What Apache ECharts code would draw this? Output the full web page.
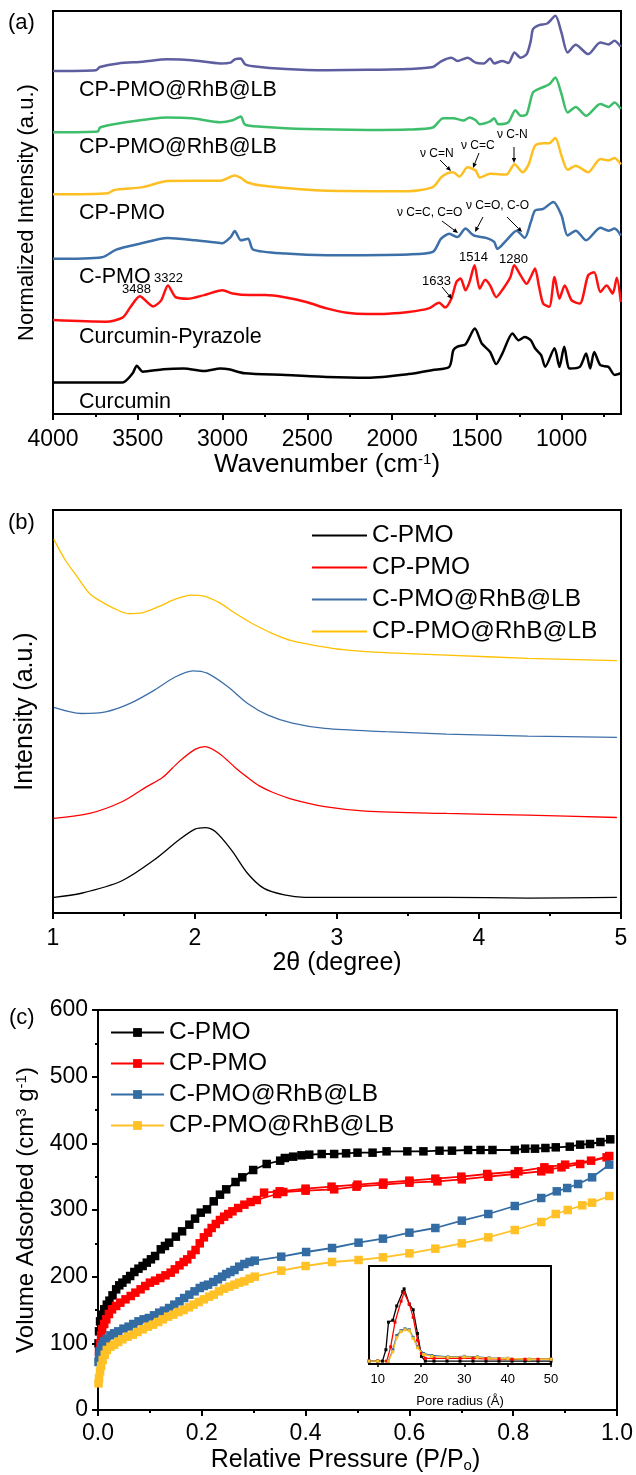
<!DOCTYPE html>
<html><head><meta charset="utf-8">
<script src="https://cdn.jsdelivr.net/npm/echarts@6/dist/echarts.min.js"></script>
<style>html,body{margin:0;padding:0;background:#fff}#c{width:636px;height:1475px}</style>
</head><body><div id="c"></div>
<script>
// ---------- Panel (a): FTIR, [wavenumber cm-1, normalized intensity (offset)] ----------
const ftirRhB1 = [[4000,85.1],[3747,85.3],[3723,86.1],[3615,87.0],[3470,87.4],[3325,88.0],[3181,87.8],[3012,87.0],[2952,87.2],[2928,88.0],[2892,88.2],[2868,86.8],[2820,86.3],[2627,85.6],[2386,85.3],[2145,85.4],[1904,85.6],[1760,86.1],[1711,87.5],[1651,88.4],[1615,87.6],[1555,88.4],[1507,87.2],[1459,87.0],[1422,88.2],[1398,87.0],[1350,87.6],[1314,87.1],[1278,89.7],[1242,88.4],[1206,89.3],[1182,92.6],[1169,95.5],[1133,96.5],[1085,96.9],[1037,98.8],[1001,94.6],[965,89.7],[917,91.6],[844,89.3],[772,92.2],[724,91.7],[688,92.6],[651,91.1]];
const ftirRhB2 = [[4000,69.9],[3735,70.1],[3723,71.1],[3615,72.1],[3325,73.6],[3181,73.4],[3012,72.4],[2940,72.9],[2892,73.8],[2868,71.8],[2771,71.3],[2506,70.7],[2145,70.5],[1904,70.6],[1760,71.1],[1699,73.4],[1639,73.4],[1579,72.8],[1543,73.6],[1507,72.9],[1483,71.9],[1422,72.6],[1398,73.4],[1374,71.9],[1314,72.4],[1273,75.4],[1242,74.0],[1206,74.4],[1169,79.8],[1121,80.9],[1073,81.8],[1037,83.5],[1001,79.4],[965,74.8],[917,76.2],[856,74.0],[772,76.9],[724,76.2],[688,77.3],[651,75.7]];
const ftirCPPMO = [[4000,54.5],[3675,54.8],[3639,55.6],[3470,56.3],[3325,57.8],[3012,57.9],[2928,59.2],[2892,58.6],[2856,57.5],[2771,56.7],[2386,55.4],[1904,55.3],[1760,56.3],[1711,58.7],[1675,59.7],[1639,60.0],[1603,58.9],[1555,61.2],[1507,60.4],[1483,58.7],[1422,59.6],[1326,59.4],[1278,62.0],[1230,60.0],[1194,62.0],[1157,66.6],[1109,67.2],[1073,67.2],[1037,68.5],[1001,64.1],[965,60.6],[917,61.6],[844,60.0],[772,63.3],[724,62.9],[688,63.5],[651,61.9]];
const ftirCPMO = [[4000,38.5],[3711,38.9],[3627,40.8],[3494,42.2],[3325,43.7],[3157,43.1],[3000,42.4],[2952,43.9],[2928,45.4],[2892,43.1],[2849,43.5],[2820,40.8],[2627,39.8],[2386,39.4],[1904,39.6],[1760,40.2],[1711,43.5],[1663,44.7],[1615,43.9],[1567,46.0],[1519,44.3],[1446,43.7],[1398,42.7],[1379,41.0],[1326,43.1],[1266,45.5],[1218,43.7],[1182,47.6],[1157,50.5],[1109,50.9],[1049,52.6],[1001,49.3],[965,44.3],[917,45.5],[856,43.1],[772,46.2],[724,45.5],[688,46.0],[651,44.3]];
const ftirCurPyr = [[4000,23.3],[3687,22.9],[3590,23.9],[3542,26.6],[3488,29.2],[3410,26.7],[3362,28.2],[3322,31.9],[3277,29.0],[3205,28.6],[3109,29.5],[3000,30.7],[2940,29.9],[2844,29.5],[2747,29.5],[2627,28.9],[2506,27.8],[2386,26.2],[2266,25.1],[2145,24.8],[2025,24.9],[1904,25.3],[1784,26.2],[1723,27.6],[1687,26.4],[1651,28.6],[1620,32.8],[1596,33.6],[1567,30.7],[1543,32.8],[1514,36.9],[1483,31.1],[1451,33.3],[1422,31.9],[1386,29.0],[1345,31.1],[1302,34.0],[1280,36.9],[1242,34.4],[1206,32.3],[1182,34.0],[1157,36.1],[1133,31.5],[1109,27.4],[1073,26.6],[1042,34.0],[1013,28.6],[982,31.9],[941,28.2],[893,27.4],[844,34.4],[808,35.2],[772,30.3],[735,31.9],[699,29.9],[675,33.8],[651,27.8]];
const ftirCur = [[4000,7.8],[3590,7.8],[3530,10.1],[3506,12.0],[3470,10.5],[3350,11.1],[3229,11.3],[3109,10.7],[3012,11.3],[2964,11.1],[2868,10.1],[2627,9.7],[2386,9.2],[2145,9.0],[1904,9.9],[1760,10.9],[1663,11.7],[1639,15.8],[1615,16.7],[1567,17.3],[1512,21.2],[1471,17.5],[1422,15.4],[1386,12.4],[1350,15.0],[1290,20.0],[1254,18.3],[1218,19.1],[1182,18.3],[1157,16.3],[1121,14.6],[1097,11.7],[1042,16.3],[1013,11.7],[985,16.7],[953,11.3],[893,11.7],[856,15.0],[832,11.3],[808,15.4],[772,12.1],[724,11.7],[688,9.7],[651,10.1]];
const ftirMajorTicks = [4000,3500,3000,2500,2000,1500,1000];
const ftirMinorTicks = [3750,3250,2750,2250,1750,1250,750];

// ---------- Panel (b): XRD, [2theta, intensity (offset)] ----------
const xrdNames = ['C-PMO','CP-PMO','C-PMO@RhB@LB','CP-PMO@RhB@LB'];
const xrdCPMO = [[1.006,3.9],[1.2,4.9],[1.486,8.0],[1.714,13.2],[1.886,18.1],[2.0,20.8],[2.071,21.2],[2.143,20.2],[2.257,15.6],[2.371,9.8],[2.486,6.1],[2.629,4.5],[2.771,3.9],[3.2,3.9],[3.771,3.9],[4.343,3.7],[4.971,3.9]];
const xrdCPPMO = [[1.006,23.5],[1.257,24.7],[1.486,27.6],[1.657,31.3],[1.771,33.6],[1.886,37.5],[2.0,40.6],[2.071,41.3],[2.171,39.6],[2.286,36.0],[2.371,33.6],[2.45,31.6],[2.55,29.9],[2.686,28.2],[2.914,26.4],[3.2,25.3],[3.771,24.7],[4.343,24.3],[4.971,23.7]];
const xrdCPMORhB = [[1.006,51.0],[1.2,49.5],[1.371,49.9],[1.543,52.0],[1.714,55.3],[1.857,58.5],[1.986,60.1],[2.086,59.5],[2.229,56.2],[2.371,52.0],[2.514,49.1],[2.686,47.1],[2.914,45.8],[3.343,45.0],[3.771,44.4],[4.343,43.9],[4.971,43.6]];
const xrdCPPMORhB = [[1.006,92.7],[1.086,87.6],[1.171,83.4],[1.257,79.3],[1.343,77.2],[1.429,75.6],[1.529,74.3],[1.629,74.5],[1.743,76.0],[1.857,77.8],[1.971,78.9],[2.057,78.7],[2.171,77.0],[2.286,74.3],[2.4,71.9],[2.543,69.4],[2.686,67.5],[2.857,66.3],[3.057,65.3],[3.343,64.6],[3.771,64.0],[4.343,63.2],[4.971,62.6]];

// ---------- Panel (c): N2 isotherms, [P/P0, volume adsorbed cm3/g] ----------
const isoCPMO = [[0.001,100],[0.002,118],[0.004,133],[0.008,143],[0.012,151],[0.017,158],[0.022,164],[0.028,172],[0.035,181],[0.041,187],[0.047,191],[0.055,196],[0.062,201],[0.07,207],[0.078,212],[0.086,216],[0.094,221],[0.102,226],[0.11,231],[0.121,241],[0.129,246],[0.137,251],[0.15,260],[0.162,268],[0.176,278],[0.187,287],[0.198,296],[0.21,301],[0.223,313],[0.235,323],[0.247,331],[0.265,342],[0.278,349],[0.299,360],[0.325,369],[0.351,374],[0.36,378],[0.376,380],[0.392,382],[0.407,383],[0.431,384],[0.455,384],[0.478,385],[0.5,386],[0.529,386],[0.556,388],[0.596,388],[0.627,388],[0.658,389],[0.682,389],[0.713,390],[0.737,390],[0.76,390],[0.803,390],[0.823,392],[0.842,392],[0.862,393],[0.882,394],[0.909,395],[0.929,398],[0.948,399],[0.968,402],[0.987,406]];
const isoCPPMO = [[0.002,88],[0.004,100],[0.006,112],[0.008,121],[0.012,129],[0.016,136],[0.021,144],[0.027,151],[0.035,156],[0.043,161],[0.053,166],[0.063,171],[0.072,176],[0.082,181],[0.091,186],[0.1,191],[0.11,194],[0.12,198],[0.13,202],[0.14,206],[0.148,211],[0.157,217],[0.165,222],[0.172,226],[0.18,233],[0.188,240],[0.196,250],[0.204,259],[0.212,266],[0.219,273],[0.227,279],[0.235,285],[0.243,290],[0.251,294],[0.259,298],[0.27,303],[0.282,308],[0.294,312],[0.306,315],[0.345,324],[0.357,327],[0.4,329],[0.455,331],[0.498,335],[0.549,338],[0.6,341],[0.654,343],[0.701,346],[0.752,350],[0.803,354],[0.854,358],[0.87,361],[0.893,364],[0.929,369],[0.98,379]];
const isoCPPMODes = [[0.985,381],[0.95,374],[0.9,368],[0.86,364],[0.81,358],[0.75,354],[0.7,350],[0.65,347],[0.6,344],[0.55,341],[0.5,338],[0.45,335],[0.4,332],[0.35,328],[0.32,326]];
const isoCPMORhB = [[0.001,72],[0.002,80],[0.004,88],[0.006,95],[0.009,99],[0.012,103],[0.017,107],[0.024,112],[0.031,115],[0.039,118],[0.049,122],[0.059,125],[0.068,129],[0.078,133],[0.088,136],[0.098,138],[0.108,142],[0.118,146],[0.127,149],[0.137,153],[0.147,158],[0.157,163],[0.166,168],[0.176,173],[0.186,178],[0.196,183],[0.204,186],[0.212,188],[0.222,192],[0.231,196],[0.239,200],[0.247,204],[0.255,207],[0.263,210],[0.272,215],[0.282,219],[0.292,222],[0.302,224],[0.353,230],[0.401,237],[0.451,243],[0.502,251],[0.549,257],[0.6,266],[0.65,273],[0.701,284],[0.752,294],[0.803,306],[0.854,318],[0.884,328],[0.904,333],[0.925,339],[0.952,349],[0.985,368]];
const isoCPPMORhB = [[0.001,40],[0.002,48],[0.004,58],[0.006,66],[0.009,75],[0.013,83],[0.017,90],[0.024,95],[0.031,98],[0.039,102],[0.047,106],[0.057,110],[0.067,113],[0.076,117],[0.086,121],[0.096,125],[0.106,128],[0.116,132],[0.125,136],[0.135,140],[0.145,143],[0.155,147],[0.165,150],[0.175,154],[0.184,158],[0.194,162],[0.204,166],[0.214,170],[0.223,173],[0.233,178],[0.243,182],[0.253,185],[0.263,188],[0.272,191],[0.282,193],[0.292,197],[0.302,200],[0.353,209],[0.4,216],[0.451,222],[0.502,225],[0.549,229],[0.6,235],[0.65,242],[0.701,250],[0.752,259],[0.803,270],[0.854,282],[0.882,294],[0.905,300],[0.933,307],[0.952,311],[0.985,321]];

// ---------- Inset: pore size distribution, [pore radius Å, relative dV] ----------
const psdCPMO = [[8,0],[10,0],[11.1,0],[11.9,0.12],[12.5,0.41],[13.5,0.43],[14.4,0.58],[15.8,0.73],[16.1,0.76],[17.3,0.6],[18.2,0.54],[19.2,0.29],[20.1,0.05],[21,0],[23,0],[26,0],[29,0],[32,0],[35,0],[38,0],[41,0],[44,0],[47,0],[50,0]];
const psdCPPMO = [[8,0],[10,0],[12.1,0],[13,0.15],[14,0.41],[15.4,0.63],[16.1,0.72],[17.3,0.6],[18.2,0.46],[19.2,0.22],[20.1,0.08],[21,0.03],[23,0.03],[26,0.03],[29,0.03],[32,0.03],[35,0.025],[38,0.025],[41,0.02],[44,0.02],[47,0.02],[50,0.02]];
const psdCPMORhB = [[8,0],[10,0],[12.5,0],[13.5,0.12],[14.4,0.27],[15.4,0.32],[16.3,0.34],[17.3,0.33],[18.2,0.25],[19.2,0.15],[20.6,0.08],[22.5,0.06],[26.2,0.045],[30,0.05],[33,0.045],[35.7,0.035],[40,0.03],[45,0.02],[50,0.02]];
const psdCPPMORhB = [[8,0],[10,0],[12.5,0],[13.5,0.1],[14.4,0.25],[15.4,0.31],[16.3,0.33],[17.3,0.32],[18.2,0.24],[19.2,0.14],[20.6,0.07],[22.5,0.05],[26.2,0.04],[30,0.045],[33,0.04],[35.7,0.03],[40,0.028],[45,0.02],[50,0.02]];
const psdTicks = [10,20,30,40,50];

const FONT = '"Liberation Sans", Arial, sans-serif';
const chart = echarts.init(document.getElementById('c'), null, {renderer:'canvas'});

const axisLine = {show:true, onZero:false, lineStyle:{color:'#000', width:2}};
const txt = (size) => ({color:'#000', fontSize:size, fontFamily:FONT});
const supRich = {sup:{fontSize:15, fontFamily:FONT, color:'#000', verticalAlign:'top', padding:[0,0,9,0]}, sub:{fontSize:15, fontFamily:FONT, color:'#000', verticalAlign:'bottom', padding:[9,0,0,0]}};

function ftirSeries(name, data, color){
  return {name, type:'line', xAxisIndex:0, yAxisIndex:0, data, symbol:'none', smooth:0.25,
    lineStyle:{color, width:2.5}, itemStyle:{color}, silent:true, z:3};
}
function xrdSeries(name, data, color){
  return {name, type:'line', xAxisIndex:2, yAxisIndex:1, data, symbol:'none', smooth:0.3,
    lineStyle:{color, width:1.3}, itemStyle:{color}, silent:true};
}
function isoSeries(name, data, color){
  return {name, type:'line', xAxisIndex:3, yAxisIndex:2, data, symbol:'rect', symbolSize:8.5,
    lineStyle:{color, width:1.8}, itemStyle:{color}, silent:true};
}
function psdSeries(name, data, color){
  return {name, type:'line', xAxisIndex:4, yAxisIndex:3, data, symbol:'rect', symbolSize:3,
    lineStyle:{color, width:1.3}, itemStyle:{color}, silent:true, z:5};
}

function arrow(x1,y1,x2,y2){
  const dx=x2-x1, dy=y2-y1, L=Math.hypot(dx,dy), ux=dx/L, uy=dy/L, h=5, w=2.2;
  const bx=x2-ux*h, by=y2-uy*h;
  return [
    {type:'line', shape:{x1,y1,x2:bx,y2:by}, style:{stroke:'#000', lineWidth:1}, z:10},
    {type:'polygon', shape:{points:[[x2,y2],[bx-uy*w,by+ux*w],[bx+uy*w,by-ux*w]]}, style:{fill:'#000'}, z:10}
  ];
}
function label(text, x, y, size){
  return {type:'text', x, y, z:10, style:{text, fontSize:size, fontFamily:FONT, fill:'#000', verticalAlign:'middle'}};
}

const graphics = [
  label('(a)', 8, 23, 22), label('(b)', 8, 523, 22), label('(c)', 9, 1018, 22),
  label('CP-PMO@RhB@LB', 79, 90, 21.5), label('CP-PMO@RhB@LB', 79, 147, 21.5),
  label('CP-PMO', 79, 213, 21.5), label('C-PMO', 79, 277, 21.5),
  label('Curcumin-Pyrazole', 79, 337, 21.5), label('Curcumin', 79, 402, 21.5),
  label('ν C=N', 420, 154, 12), label('ν C=C', 461, 146, 12), label('ν C-N', 497, 135, 12),
  label('ν C=C, C=O', 397, 213, 12), label('ν C=O, C-O', 466, 206, 12),
  label('3488', 122, 289, 13), label('3322', 154, 278, 13), label('1633', 422, 281, 13),
  label('1514', 459, 257, 13), label('1280', 499, 259, 13),
  ...arrow(440,160,451,171), ...arrow(479,153,473,168), ...arrow(514,147,514,163),
  ...arrow(442,221,458,233), ...arrow(483,217,475,232), ...arrow(507,217,522,232),
  ...arrow(442,287,452,299)
];

const option = {
  animation:false,
  backgroundColor:'#fff',
  textStyle:{fontFamily:FONT},
  grid:[
    {left:53, top:11, width:568, height:403, show:true, borderColor:'#000', borderWidth:2},
    {left:53, top:510, width:568, height:403, show:true, borderColor:'#000', borderWidth:2},
    {left:98, top:1010, width:523, height:400, show:true, borderColor:'#000', borderWidth:2},
    {left:369, top:1266, width:182, height:98, show:true, borderColor:'#000', borderWidth:2}
  ],
  xAxis:[
    {gridIndex:0, type:'value', min:650, max:4000, inverse:true, axisLine,
      axisTick:{show:true, customValues:ftirMajorTicks, length:6, lineStyle:{color:'#000', width:2}},
      axisLabel:{customValues:ftirMajorTicks, margin:14, formatter:(v)=>String(v), ...txt(23)}, splitLine:{show:false},
      name:'Wavenumber (cm{sup|-1})', nameLocation:'middle', nameGap:37,
      nameTextStyle:{...txt(26), rich:supRich, padding:[0,20,0,0]}},
    {gridIndex:0, type:'value', min:650, max:4000, inverse:true, position:'bottom', axisLine:{show:false},
      axisTick:{show:true, customValues:ftirMinorTicks, length:3, lineStyle:{color:'#000', width:2}},
      axisLabel:{show:false}, splitLine:{show:false}},
    {gridIndex:1, type:'value', min:1, max:5, interval:1, axisLine,
      axisTick:{length:6, lineStyle:{color:'#000', width:2}},
      minorTick:{show:true, splitNumber:2, length:3, lineStyle:{color:'#000', width:2}},
      axisLabel:{margin:14, ...txt(23)}, splitLine:{show:false},
      name:'2θ (degree)', nameLocation:'middle', nameGap:37, nameTextStyle:txt(25)},
    {gridIndex:2, type:'value', min:0, max:1, interval:0.2, axisLine,
      axisTick:{length:6, lineStyle:{color:'#000', width:2}},
      minorTick:{show:true, splitNumber:2, length:3, lineStyle:{color:'#000', width:2}},
      axisLabel:{margin:12, formatter:(v)=>v.toFixed(1), ...txt(23)}, splitLine:{show:false},
      name:'Relative Pressure (P/P{sub|o})', nameLocation:'middle', nameGap:38,
      nameTextStyle:{...txt(25), rich:supRich, padding:[0,24,0,0]}},
    {gridIndex:3, type:'value', min:8, max:50, axisLine,
      axisTick:{show:true, customValues:psdTicks, length:3, lineStyle:{color:'#000', width:1.5}},
      axisLabel:{customValues:psdTicks, margin:9, ...txt(13)}, splitLine:{show:false},
      name:'Pore radius (Å)', nameLocation:'middle', nameGap:31, nameTextStyle:txt(13)}
  ],
  yAxis:[
    {gridIndex:0, type:'value', min:0, max:100, axisLine, axisTick:{show:false}, axisLabel:{show:false}, splitLine:{show:false},
      name:'Normalized Intensity (a.u.)', nameLocation:'middle', nameGap:15, nameTextStyle:txt(22)},
    {gridIndex:1, type:'value', min:0, max:100, axisLine, axisTick:{show:false}, axisLabel:{show:false}, splitLine:{show:false},
      name:'Intensity (a.u.)', nameLocation:'middle', nameGap:15, nameTextStyle:txt(25)},
    {gridIndex:2, type:'value', min:0, max:600, interval:100, axisLine,
      axisTick:{length:6, lineStyle:{color:'#000', width:2}},
      minorTick:{show:true, splitNumber:2, length:3, lineStyle:{color:'#000', width:2}},
      axisLabel:{margin:10, ...txt(23)}, splitLine:{show:false},
      name:'Volume Adsorbed (cm{sup|3} g{sup|-1})', nameLocation:'middle', nameGap:55, nameTextStyle:{...txt(24), rich:supRich}},
    {gridIndex:3, type:'value', min:-0.03, max:1, show:false, splitLine:{show:false}}
  ],
  legend:[
    {data:xrdNames, orient:'vertical', left:312, top:523, padding:0, icon:'rect', itemWidth:55, itemHeight:2, itemGap:7,
      textStyle:txt(24.5), selectedMode:false},
    {data:['iso:C-PMO','iso:CP-PMO','iso:C-PMO@RhB@LB','iso:CP-PMO@RhB@LB'], formatter:(n)=>n.replace('iso:',''),
      orient:'vertical', left:110, top:1020, padding:0, itemWidth:53, itemHeight:11, itemGap:6,
      textStyle:txt(24.5), selectedMode:false}
  ],
  series:[
    ftirSeries('ftir:RhB1', ftirRhB1, '#5d5d9f'),
    ftirSeries('ftir:RhB2', ftirRhB2, '#3ebe6b'),
    ftirSeries('ftir:CP-PMO', ftirCPPMO, '#fdbf22'),
    ftirSeries('ftir:C-PMO', ftirCPMO, '#3d6fa8'),
    ftirSeries('ftir:Curcumin-Pyrazole', ftirCurPyr, '#ff1010'),
    ftirSeries('ftir:Curcumin', ftirCur, '#000000'),
    xrdSeries('C-PMO', xrdCPMO, '#000000'),
    xrdSeries('CP-PMO', xrdCPPMO, '#ff0000'),
    xrdSeries('C-PMO@RhB@LB', xrdCPMORhB, '#3d6fa8'),
    xrdSeries('CP-PMO@RhB@LB', xrdCPPMORhB, '#ffc000'),
    isoSeries('iso:C-PMO', isoCPMO, '#000000'),
    isoSeries('iso:CP-PMO', isoCPPMO, '#ff0000'),
    isoSeries('iso:CP-PMO', isoCPPMODes, '#ff0000'),
    isoSeries('iso:C-PMO@RhB@LB', isoCPMORhB, '#336ca3'),
    isoSeries('iso:CP-PMO@RhB@LB', isoCPPMORhB, '#ffc125'),
    psdSeries('psd:C-PMO', psdCPMO, '#000000'),
    psdSeries('psd:CP-PMO', psdCPPMO, '#ff0000'),
    psdSeries('psd:C-PMO@RhB@LB', psdCPMORhB, '#336ca3'),
    psdSeries('psd:CP-PMO@RhB@LB', psdCPPMORhB, '#ffc125')
  ],
  graphic: graphics
};
chart.setOption(option);
</script></body></html>
